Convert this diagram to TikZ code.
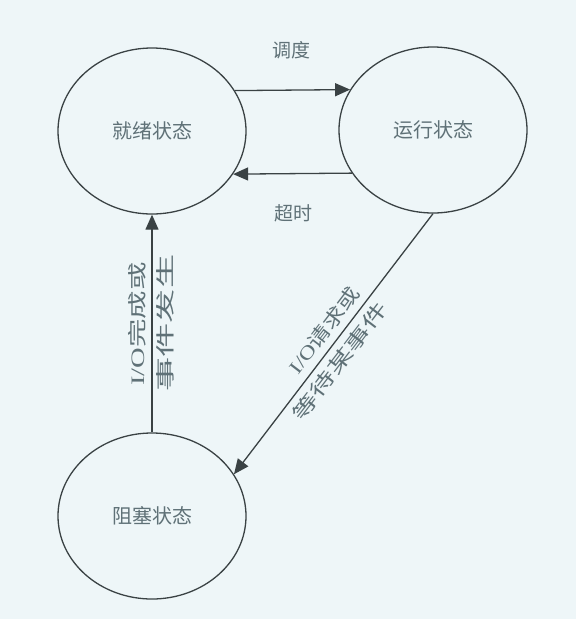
\documentclass[tikz,border=0pt]{standalone}
\usepackage{fontspec}
\usepackage{graphicx}
\usetikzlibrary{arrows.meta,shapes.geometric}
\newfontfamily\cjk{Noto Sans CJK SC}
\newfontfamily\lat{Liberation Serif}
\definecolor{paper}{HTML}{EEF6F8}
\definecolor{ink}{HTML}{5F7177}
\definecolor{wire}{HTML}{3A4244}
\tikzset{
  state/.style={ellipse, draw=wire, line width=1.3pt, minimum width=188pt,
    minimum height=166pt, inner sep=0pt, text=ink, font=\cjk\fontsize{20}{20}\selectfont},
  trans/.style={draw=wire, line width=1.3pt, -{Triangle[length=15pt,width=13pt]}},
  lbl/.style={text=ink, inner sep=0pt, font=\cjk\fontsize{19}{19}\selectfont}
}
% stretch a label along its own reading direction
\newcommand{\longtext}[2]{\scalebox{#1}[1]{#2}}
\begin{document}
\begin{tikzpicture}[x=1pt,y=-1pt]
  \fill[paper] (0,0) rectangle (576,619);
  \useasboundingbox (0,0) rectangle (576,619);

  % the three process states
  \node[state] (ready)   at (152,131) {就绪状态};
  \node[state] (running) at (433,130) {运行状态};
  \node[state] (blocked) at (152,516) {阻塞状态};

  % transitions between the states
  \draw[trans] (ready.26) -- (running.154);
  \draw[trans] (running.208) -- (ready.332);
  \draw[trans] (blocked.north) -- (ready.south);
  \draw[trans] (running.270) -- (blocked.27);

  % transition labels
  \node[lbl] (tsched) at (291,50) {调度};
  \node[lbl] (ttime)  at (293,213) {超时};
  \node[lbl, rotate=90] (tio1) at (137,324) {\longtext{1.5}{{\lat I/O}完成或}};
  \node[lbl, rotate=90] (tio2) at (165,323) {\longtext{1.8}{事件发生}};
  \node[lbl, rotate=52.6] (treq1) at (324,330) {\longtext{1.25}{{\lat I/O}请求或}};
  \node[lbl, rotate=52.6] (treq2) at (340,361) {\longtext{1.5}{等待某事件}};
\end{tikzpicture}
\end{document}
